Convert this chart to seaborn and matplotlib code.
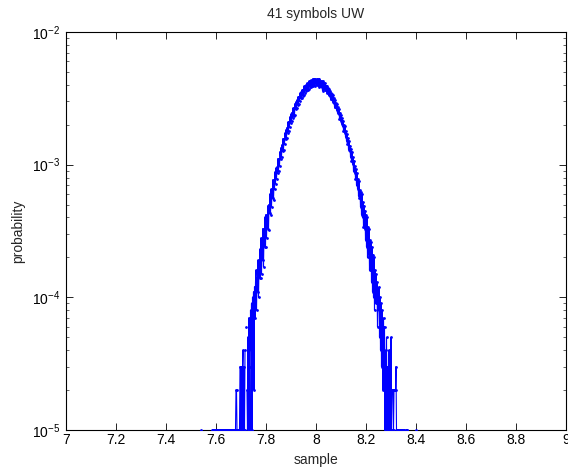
import numpy as np
import pandas as pd
import matplotlib
matplotlib.use("Agg")
import matplotlib.pyplot as plt
import seaborn as sns
from matplotlib.ticker import LogLocator, FixedLocator, NullLocator, FixedFormatter

# ---------------- data ----------------
title = "41 symbols UW"
x_label = "sample"
y_label = "probability"
x_ticks = [7.0, 7.2, 7.4, 7.6, 7.8, 8.0, 8.2, 8.4, 8.6, 8.8, 9.0]
x_tick_labels = ["7", "7.2", "7.4", "7.6", "7.8", "8", "8.2", "8.4", "8.6", "8.8", "9"]
y_ticks = [1e-5, 1e-4, 1e-3, 1e-2]

sample_start = 7.540      # first histogram bin
sample_step = 0.002       # bin width
total_symbols = 100000    # counts -> probability

# counts per bin, 7.540 .. 7.758
counts_left_tail = (
    [1] + [0] * 20 + [1, 0] + [1] * 47 +
    [2, 2, 1, 1, 1, 1, 1, 1, 3, 3,
     1, 3, 1, 3, 4, 1, 3, 1, 4, 0,
     6, 0, 2, 1, 5, 1, 7, 3, 1, 8,
     4, 9, 1, 10, 5, 11, 2, 12, 7, 13]
)
# 7.760 .. 7.998
counts_left = [
    16, 8, 14, 11, 19, 10, 17, 14, 23, 14,
    28, 15, 25, 19, 33, 17, 30, 24, 40, 24,
    42, 28, 41, 33, 49, 32, 50, 43, 60, 42,
    65, 48, 65, 56, 77, 54, 74, 65, 88, 72,
    94, 78, 96, 86, 111, 89, 110, 98, 125, 111,
    134, 114, 141, 126, 157, 130, 157, 142, 173, 156,
    183, 160, 190, 174, 209, 178, 211, 192, 229, 207,
    239, 213, 247, 226, 266, 232, 268, 237, 288, 261,
    297, 269, 306, 282, 324, 287, 326, 300, 344, 316,
    351, 319, 365, 332, 368, 334, 389, 349, 390, 361,
    399, 364, 410, 367, 409, 369, 424, 386, 425, 387,
    434, 391, 430, 390, 445, 401, 439, 390, 445, 407,
]
# 8.000
counts_peak = [424]
# 8.002 .. 8.240
counts_right = [
    399, 445, 407, 439, 388, 433, 444, 389, 424, 389,
    428, 385, 362, 424, 369, 413, 367, 410, 364, 395,
    353, 394, 349, 381, 334, 375, 328, 362, 313, 348,
    313, 341, 297, 333, 290, 318, 274, 309, 272, 292,
    258, 285, 245, 270, 239, 263, 221, 247, 215, 237,
    203, 225, 194, 215, 180, 200, 174, 194, 162, 178,
    151, 170, 143, 158, 130, 151, 127, 139, 114, 132,
    106, 125, 101, 114, 89, 107, 87, 97, 78, 92,
    70, 86, 66, 78, 58, 75, 56, 64, 48, 62,
    42, 60, 40, 52, 34, 49, 33, 45, 27, 42,
    24, 40, 20, 34, 21, 33, 16, 27, 16, 26,
    13, 24, 11, 21, 10, 20, 8, 16, 9, 15,
]
# 8.242 .. 8.400
counts_right_tail = [
    9, 13, 6, 11, 8, 12, 5, 10, 4, 9,
    3, 8, 5, 2, 7, 3, 6, 1, 4, 2,
    5, 1, 3, 1, 1, 4, 1, 3, 1, 5,
    1, 2, 2, 2, 1, 2, 2, 2, 2, 3,
    1, 1, 1, 1, 1, 0, 1, 1, 1, 1,
    1, 1, 0, 1, 1, 1, 0, 0, 1, 1,
    1, 1, 0, 0, 0, 0, 0, 0, 0, 0,
    0, 0, 0, 0, 0, 0, 0, 0, 0, 1,
]

# ---------------- build table ----------------
counts = np.array(counts_left_tail + counts_left + counts_peak + counts_right + counts_right_tail, dtype=float)
samples = np.round(sample_start + sample_step * np.arange(len(counts)), 3)
segment = np.cumsum(counts == 0)
df = pd.DataFrame({"sample": samples, "probability": counts / total_symbols, "seg": segment})
df = df[counts > 0]

# ---------------- style ----------------
sns.set_theme(style="ticks")
plt.rcParams["font.family"] = ["Liberation Sans", "DejaVu Sans"]
plt.rcParams["mathtext.fontset"] = "custom"
plt.rcParams["mathtext.rm"] = "Liberation Sans"
plt.rcParams["mathtext.it"] = "Liberation Sans:italic"
plt.rcParams["mathtext.bf"] = "Liberation Sans:bold"
plt.rcParams["mathtext.default"] = "regular"

fig = plt.figure(figsize=(5.68, 4.71), dpi=100)
ax = fig.add_axes([66 / 568, 41 / 471, 500 / 568, 398 / 471])

sns.lineplot(data=df, x="sample", y="probability", units="seg", estimator=None,
             sort=False, color="blue", linewidth=0.8, marker=".", markersize=4,
             markeredgecolor="blue", markeredgewidth=0, legend=False, ax=ax, zorder=3)

ax.set_yscale("log")
ax.set_xlim(7, 9)
ax.set_ylim(1e-5, 1e-2)
ax.xaxis.set_major_locator(FixedLocator(x_ticks))
ax.xaxis.set_major_formatter(FixedFormatter(x_tick_labels))
ax.xaxis.set_minor_locator(NullLocator())
ax.yaxis.set_major_locator(FixedLocator(y_ticks))
ax.yaxis.set_minor_locator(LogLocator(base=10, subs=np.arange(2, 10)))

for s in ax.spines.values():
    s.set_visible(True)
    s.set_color("black")
    s.set_linewidth(0.8)

ax.tick_params(which="major", direction="in", top=True, right=True, length=5,
               width=0.6, labelsize=10, colors="black", pad=4)
ax.tick_params(which="minor", direction="in", left=True, right=True, length=2.5, width=0.5)
ax.tick_params(axis="x", pad=2.5)

ax.set_title(title, fontsize=10, pad=10)
ax.set_xlabel(x_label, fontsize=10, labelpad=4)
ax.set_ylabel(y_label, fontsize=10, labelpad=5)
ax.grid(False)

fig.savefig("out.png", dpi=100, facecolor="white")
